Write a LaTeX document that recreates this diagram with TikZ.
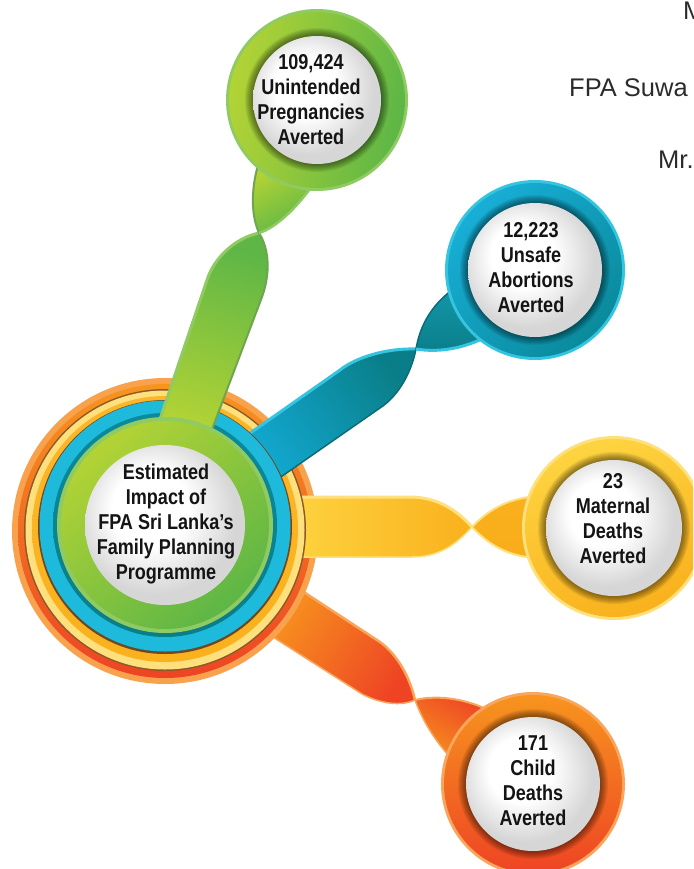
\documentclass[tikz,border=0pt]{standalone}
\usepackage{fontspec}
\setmainfont{Liberation Sans}
\newfontfamily\condb{Liberation Sans}[FakeStretch=0.84]
\definecolor{txt}{HTML}{141414}
\definecolor{toptxt}{HTML}{2B2B2B}
\definecolor{gEdge}{HTML}{8FCB62}
\definecolor{gLight}{HTML}{B3D335}
\definecolor{gDark}{HTML}{5DB646}
\definecolor{gDarkEdge}{HTML}{6FA550}
\definecolor{cEdge}{HTML}{35C5E1}
\definecolor{cBright}{HTML}{12AAD4}
\definecolor{cTeal}{HTML}{0A7E88}
\definecolor{cDarkEdge}{HTML}{0B6C78}
\definecolor{cRing}{HTML}{1DBADB}
\definecolor{cInner}{HTML}{0A8A9C}
\definecolor{yEdge}{HTML}{FFE07D}
\definecolor{yLight}{HTML}{FDD440}
\definecolor{yDark}{HTML}{F9B11D}
\definecolor{yRing}{HTML}{FBB62A}
\definecolor{oEdge}{HTML}{F9A65C}
\definecolor{oLight}{HTML}{F7941E}
\definecolor{oRed}{HTML}{EE4424}
\definecolor{oOuter}{HTML}{F8A24E}
\definecolor{brLine}{HTML}{8A5A2A}
\pgfdeclareradialshading{whitedisc}{\pgfpoint{-6bp}{7bp}}{color(0bp)=(white); color(12bp)=(white); color(25bp)=(black!16); color(50bp)=(black!16)}
\newcommand{\drawsat}[8]{%
  \fill[#5] (#1,#2) circle [radius=#3pt];
  \shade[top color=#6, bottom color=#7, shading angle=#8] (#1,#2) circle [radius=#3pt-3pt];
  \foreach \k in {0,...,7} {\fill[black, opacity=0.065] (#1,#2) circle [radius={(#4+8-\k)*1pt}];}
  \shade[shading=whitedisc] (#1,#2) circle [radius=#4pt];
}
\begin{document}
\begin{tikzpicture}[x=1pt,y=-1pt,
  lbl/.style={font=\condb\bfseries\fontsize{21.5}{25}\selectfont, align=center, text=txt, inner sep=0pt},
  toplbl/.style={font=\fontsize{25.5}{30}\selectfont, text=toptxt, inner sep=0pt, anchor=base west}]
\useasboundingbox (0,0) rectangle (693,869);
\clip (0,0) rectangle (693,869);

% ---------- orange ribbon ----------
\shade[left color=oLight, right color=oRed, shading angle=57]
  (290,583) -- (380,642) .. controls (398,655) and (410,678) .. (415,700)
  .. controls (405,705) and (385,706) .. (362,694) -- (262,630) -- cycle;
\draw[oEdge, line width=2.5pt] (290,583) -- (380,642) .. controls (398,655) and (410,678) .. (415,700);
\draw[oEdge, line width=1.5pt] (415,700) .. controls (405,705) and (385,706) .. (362,694) -- (262,630);
\shade[top color=oLight, bottom color=oRed, shading angle=150]
  (415,700) .. controls (440,694) and (470,700) .. (492,712) -- (458,765)
  .. controls (440,748) and (424,725) .. (415,700) -- cycle;
\draw[oEdge, line width=2pt] (415,700) .. controls (440,694) and (470,700) .. (492,712);
\draw[oEdge, line width=1.5pt] (458,765) .. controls (440,748) and (424,725) .. (415,700);

% ---------- central orange rings ----------
\fill[oOuter] (165,531) circle (153pt);
\shade[top color=oLight, bottom color=oRed] (165,531) circle (147pt);

% ---------- yellow ribbon ----------
\shade[left color=yLight, right color=yDark]
  (285,497) -- (410,497) .. controls (435,497) and (455,508) .. (472,527)
  .. controls (455,546) and (438,557) .. (412,557) -- (285,557) -- cycle;
\draw[yEdge, line width=3pt] (285,497) -- (410,497) .. controls (435,497) and (455,508) .. (472,527);
\draw[yEdge, line width=1.5pt] (472,527) .. controls (455,546) and (438,557) .. (412,557) -- (285,557);
\shade[top color=yDark, bottom color=yDark!90!orange]
  (472,527) .. controls (490,508) and (510,498) .. (538,496) -- (538,558)
  .. controls (510,557) and (490,546) .. (472,527) -- cycle;
\draw[yEdge, line width=2pt] (472,527) .. controls (490,508) and (510,498) .. (538,496);
\draw[yEdge, line width=2pt] (538,558) .. controls (510,557) and (490,546) .. (472,527);

% ---------- central yellow rings ----------
\fill[brLine] (165,530) circle (141pt);
\fill[yEdge] (165,530) circle (139.5pt);
\shade[top color=yRing, bottom color=yDark] (165,529) circle (133pt);

% ---------- cyan ribbon ----------
\shade[left color=cBright, right color=cTeal, shading angle=125]
  (236,443) -- (340,370) .. controls (355,358) and (385,348) .. (416,349)
  .. controls (412,370) and (400,395) .. (380,408) -- (265,488) -- cycle;
\draw[cEdge, line width=3pt] (236,443) -- (340,370) .. controls (355,358) and (385,348) .. (416,349);
\draw[cDarkEdge, line width=1.5pt] (416,349) .. controls (412,370) and (400,395) .. (380,408) -- (265,488);
\shade[top color=cInner!80!cEdge, bottom color=cTeal]
  (416,349) .. controls (420,325) and (432,305) .. (452,290) -- (488,336)
  .. controls (465,348) and (440,353) .. (416,349) -- cycle;
\draw[cDarkEdge, line width=1.5pt] (416,349) .. controls (420,325) and (432,305) .. (452,290);
\draw[cEdge, line width=3pt] (488,336) .. controls (465,348) and (440,353) .. (416,349);

% ---------- central cyan rings ----------
\fill[brLine!80!black] (165,527) circle (127pt);
\fill[cRing] (165,526) circle (125.5pt);
\shade[top color=cInner, bottom color=cTeal] (165,525) circle (112pt);

% ---------- green ribbon ----------
\shade[top color=gDark, bottom color=gLight, shading angle=-19]
  (153,440) -- (207,280) .. controls (214,258) and (235,238) .. (259,233)
  .. controls (270,250) and (270,275) .. (262,297) -- (208,440) -- cycle;
\draw[gEdge, line width=3pt] (153,440) -- (207,280) .. controls (214,258) and (235,238) .. (259,233);
\draw[gDarkEdge, line width=2pt] (259,233) .. controls (270,250) and (270,275) .. (262,297) -- (208,440);
\shade[top color=gLight, bottom color=gDark, shading angle=30]
  (259,233) .. controls (251,215) and (251,190) .. (258,165) -- (312,186)
  .. controls (295,210) and (275,228) .. (259,233) -- cycle;
\draw[gDarkEdge, line width=2pt] (259,233) .. controls (251,215) and (251,190) .. (258,165);
\draw[gEdge, line width=2.5pt] (312,186) .. controls (295,210) and (275,228) .. (259,233);

% ---------- central green ring and disc ----------
\fill[gEdge] (165,525) circle (108pt);
\shade[top color=gLight, bottom color=gDark, shading angle=40] (165,525) circle (104pt);
\shade[shading=whitedisc] (165,525) circle (80pt);
\node[lbl] (ctext) at (166,524) {Estimated\\Impact of\\FPA Sri Lanka’s\\Family Planning\\Programme};

% ---------- satellites ----------
\drawsat{317}{100}{91}{64}{gEdge}{gLight}{gDark}{80}
\node[lbl] (t1) at (311,100) {109,424\\Unintended\\Pregnancies\\Averted};

\drawsat{535}{270}{90}{67}{cEdge}{cBright!85!cEdge}{cInner}{45}
\node[lbl] (t2) at (531,268) {12,223\\Unsafe\\Abortions\\Averted};

\drawsat{614}{528}{92}{68}{yEdge}{yLight}{yDark}{20}
\node[lbl] (t3) at (613,519) {23\\Maternal\\Deaths\\Averted};

\drawsat{533}{784}{92}{67}{oEdge}{oLight}{oRed}{0}
\node[lbl] (t4) at (533,781) {171\\Child\\Deaths\\Averted};

% ---------- top right text ----------
\node[toplbl] (m1) at (683,20) {M};
\node[toplbl] (m2) at (569,97) {FPA Suwa};
\node[toplbl] (m3) at (658,168) {Mr.};
\end{tikzpicture}
\end{document}
